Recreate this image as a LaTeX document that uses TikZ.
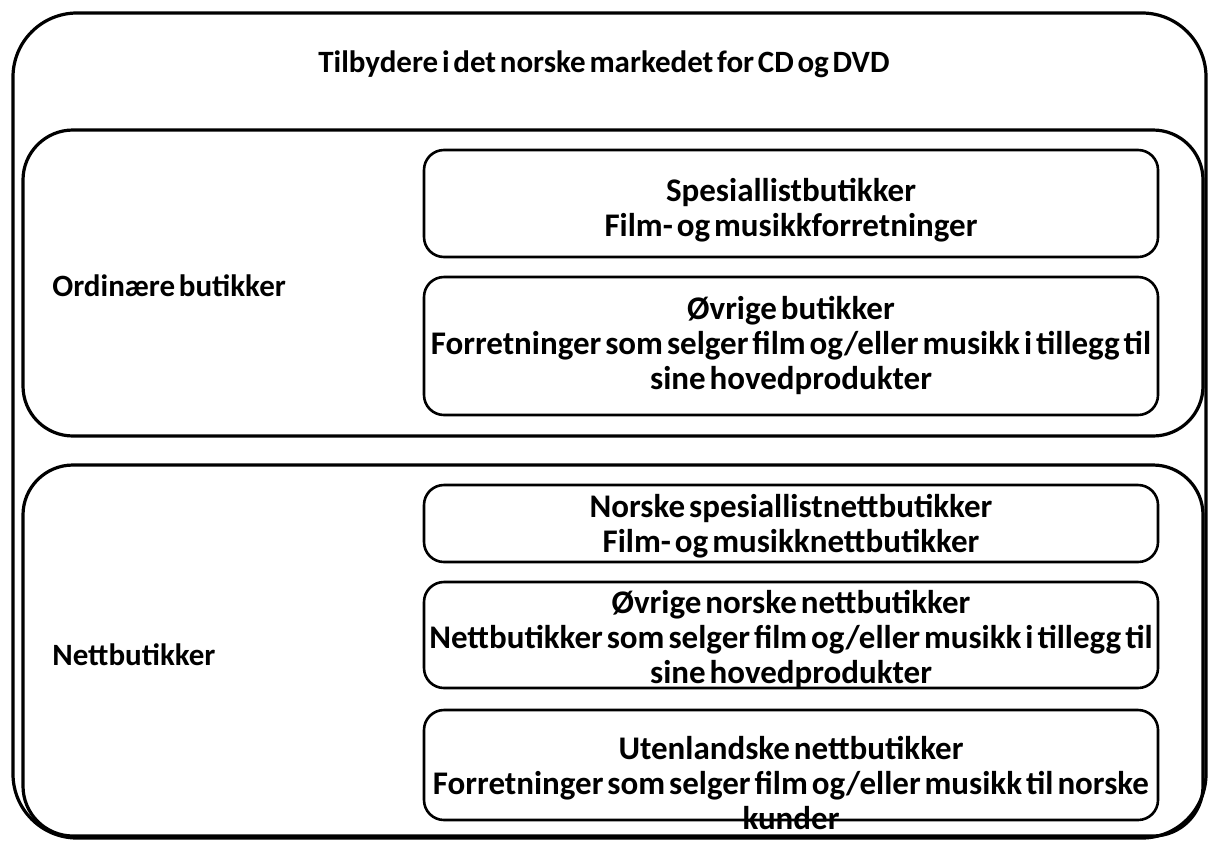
\documentclass[tikz,border=0pt]{standalone}
\usepackage{fontspec}
\setmainfont{Carlito}
\newcommand{\tightsp}{\spaceskip=0.12em plus 0.02em minus 0.02em\relax}
\begin{document}
\begin{tikzpicture}[x=0.5pt,y=-0.5pt,
  frame/.style={draw=black,line width=1.6pt,inner sep=0pt},
  bigbox/.style={frame,rounded corners=32pt},
  groupbox/.style={frame,rounded corners=25pt},
  itembox/.style={frame,line width=1.3pt,rounded corners=10pt,minimum width=367pt},
  txt/.style={font=\fontsize{16.5}{17.5}\selectfont\bfseries\tightsp,align=center,inner sep=0pt},
  ttl/.style={font=\fontsize{15.5}{17.5}\selectfont\bfseries\tightsp,inner sep=0pt},
  lbl/.style={font=\fontsize{15.5}{17.5}\selectfont\bfseries\tightsp,anchor=west,inner sep=0pt}]
\useasboundingbox (0,0) rectangle (1208,841);
% boxes
\node[bigbox,minimum width=596.5pt,minimum height=412.5pt] (outer) at (609.5,425.5) {};
\node[groupbox,minimum width=590pt,minimum height=153pt] (ord) at (613,283) {};
\node[groupbox,minimum width=590pt,minimum height=185.5pt] (nett) at (613,650.5) {};
\node[itembox,minimum height=53.5pt] (b1) at (791,203.5) {};
\node[itembox,minimum height=69pt] (b2) at (791,346) {};
\node[itembox,minimum height=38.5pt] (b3) at (791,523.5) {};
\node[itembox,minimum height=53pt] (b4) at (791,635) {};
\node[itembox,minimum height=55pt] (b5) at (791,765) {};
% texts
\node[ttl] (title) at (604,64) {Tilbydere i det norske markedet for CD og DVD};
\node[lbl] (lord) at (52,286) {Ordinære butikker};
\node[lbl] (lnett) at (52,655) {Nettbutikker};
\node[txt] (t1) at (791,210) {Spesiallistbutikker\\Film- og musikkforretninger};
\node[txt] (t2) at (791,345) {Øvrige butikker\\Forretninger som selger film og/eller musikk i tillegg til\\sine hovedprodukter};
\node[txt] (t3) at (791,526) {Norske spesiallistnettbutikker\\Film- og musikknettbutikker};
\node[txt] (t4) at (791,639) {Øvrige norske nettbutikker\\Nettbutikker som selger film og/eller musikk i tillegg til\\sine hovedprodukter};
\node[txt] (t5) at (791,783) {Utenlandske nettbutikker\\Forretninger som selger film og/eller musikk til norske\\kunder};
\end{tikzpicture}
\end{document}
